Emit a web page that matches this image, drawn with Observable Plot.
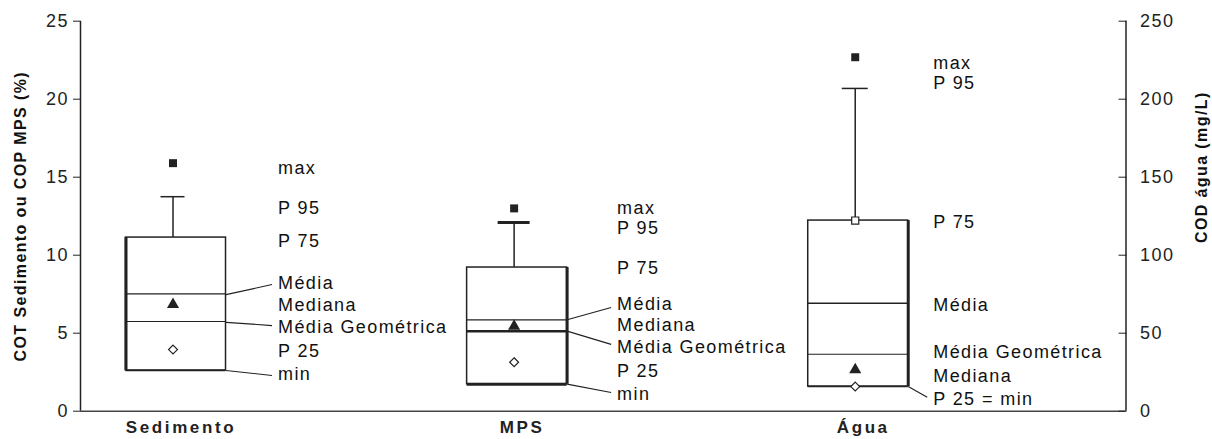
<!DOCTYPE html>
<html><head><meta charset="utf-8">
<script src="https://cdn.jsdelivr.net/npm/d3@7"></script>
<script src="https://cdn.jsdelivr.net/npm/@observablehq/plot@0.6"></script>
<style>
body{margin:0;background:#fff;}
svg g[aria-label="text"] text{letter-spacing:1.4px}
svg g[aria-label="y-axis tick label"] text{letter-spacing:1.5px}
svg g[aria-label="x-axis tick label"] text{letter-spacing:2.6px}
</style></head><body><div id="chart"></div>
<script>
// ---- data (Sedimento & MPS in %, Água in mg/L on the right axis) ----
const categories = ["Sedimento", "MPS", "Água"];
const unitDivisor = [1, 1, 10];            // right axis 250 mg/L ↔ left axis 25 %
const maxVals      = [15.9, 13.0, 226.9];
const p95Vals      = [13.75, 12.1, 206.9];
const p75Vals      = [11.13, 9.21, 122.2];
const mediaVals    = [7.52, 5.86, 69.2];
const medianaVals  = [6.84, 5.45, 26.5];
const mediaGeoVals = [5.75, 5.13, 36.5];
const p25Vals      = [3.95, 3.14, 15.8];
const minVals      = [2.61, 1.73, 15.8];
const p75Marked    = [false, false, true];

const leftTicks  = [0, 5, 10, 15, 20, 25];
const rightTicks = [0, 50, 100, 150, 200, 250];

const labelTexts = [
  ["max", "P 95", "P 75", "Média", "Mediana", "Média Geométrica", "P 25", "min"],
  ["max", "P 95", "P 75", "Média", "Mediana", "Média Geométrica", "P 25", "min"],
  ["max", "P 95", "P 75", "Média", "Média Geométrica", "Mediana", "P 25 = min"]
];
const labelValues = [
  [15.56, 13.04, 10.88, 8.19, 6.78, 5.37, 3.83, 2.35],
  [13.04, 11.76, 9.19, 6.84, 5.49, 4.10, 2.56, 1.07],
  [223.3, 210.3, 121.2, 67.8, 37.8, 22.4, 7.5]
];
const leaderCategory = [0, 0, 0, 1, 1, 1, 2];
const leaderFrom     = [7.47, 5.70, 2.61, 5.86, 5.13, 1.73, 15.8];
const leaderTo       = [8.12, 5.49, 2.29, 6.65, 4.28, 1.20, 9.0];

const leftTitle  = "COT Sedimento ou COP MPS (%)";
const rightTitle = "COD água (mg/L)";

// ---- layout constants ----
const pxPerUnit = 341.1;
const xDomain = [-0.28, 2.785];
const hw = 50 / pxPerUnit;
const capHalfPx = [12, 16, 13];
const labelOffsetPx = [102, 100, 75];
const leaderEndPx = [96, 94, 69];
const ink = "#222";

const rows = categories.map((c, i) => ({
  i, cat: c,
  max: maxVals[i] / unitDivisor[i],
  p95: p95Vals[i] / unitDivisor[i],
  p75: p75Vals[i] / unitDivisor[i],
  media: mediaVals[i] / unitDivisor[i],
  mediana: medianaVals[i] / unitDivisor[i],
  mediaGeo: mediaGeoVals[i] / unitDivisor[i],
  p25: p25Vals[i] / unitDivisor[i],
  min: minVals[i] / unitDivisor[i],
  marked: p75Marked[i]
}));
const ann = [];
labelTexts.forEach((arr, i) => arr.forEach((t, j) => ann.push({i, text: t, y: labelValues[i][j] / unitDivisor[i]})));
const leaders = leaderCategory.map((i, k) => ({i, from: leaderFrom[k] / unitDivisor[i], to: leaderTo[k] / unitDivisor[i]}));

const thickEdgeX = [rows[0].i - hw, rows[1].i + hw, rows[2].i + hw];

const chart = Plot.plot({
  width: 1212, height: 439,
  marginLeft: 80, marginRight: 86.5, marginTop: 20.7, marginBottom: 28.3,
  style: {fontFamily: "'Liberation Sans', Arial, sans-serif", fontSize: "18px", color: ink, background: "#fff"},
  x: {type: "linear", domain: xDomain, axis: null, label: null},
  y: {domain: [0, 25], axis: null, label: null},
  marks: [
    Plot.ruleX(xDomain, {y1: 0, y2: 25, stroke: ink, strokeWidth: 1.5}),
    Plot.ruleY([0], {stroke: "#444", strokeWidth: 1.5}),
    Plot.axisY(leftTicks, {anchor: "left", label: null, tickSize: 7, tickPadding: 4.5, fontSize: 18, stroke: ink}),
    Plot.axisY(rightTicks.map(v => v / 10), {anchor: "right", label: null, tickSize: -8, tickPadding: 22, fontSize: 18, tickFormat: d => String(Math.round(d * 10)), stroke: ink}),
    Plot.axisX([0, 1, 2], {anchor: "bottom", label: null, tickSize: 0, tickPadding: 10, fontSize: 17, fontWeight: "bold", dx: 5, tickFormat: i => categories[i]}),
    // whiskers
    Plot.ruleX(rows, {x: "i", y1: "p75", y2: "p95", dx: -3, stroke: ink, strokeWidth: 1.5}),
    Plot.ruleY(rows, {y: "p95", x1: d => d.i - capHalfPx[d.i] / pxPerUnit, x2: d => d.i + capHalfPx[d.i] / pxPerUnit, dx: -3, stroke: ink, strokeWidth: d => d.i === 1 ? 3 : 1.5}),
    // boxes
    Plot.rect(rows, {x1: d => d.i - hw, x2: d => d.i + hw, y1: "min", y2: "p75", fill: "white", stroke: ink, strokeWidth: 1.5}),
    Plot.ruleX(rows, {x: (d, k) => thickEdgeX[k], y1: "min", y2: "p75", stroke: ink, strokeWidth: 3}),
    Plot.ruleY(rows, {y: "min", x1: d => d.i - hw, x2: d => d.i + hw, stroke: ink, strokeWidth: d => d.i === 1 ? 3 : 1.5}),
    Plot.ruleY(rows, {y: "media", x1: d => d.i - hw, x2: d => d.i + hw, stroke: ink, strokeWidth: d => d.i === 2 ? 1.6 : 1.2}),
    Plot.ruleY(rows, {y: "mediaGeo", x1: d => d.i - hw, x2: d => d.i + hw, stroke: ink, strokeWidth: d => d.i === 1 ? 2.5 : 1.2}),
    // markers
    Plot.dot(rows, {x: "i", y: "max", dx: -3, symbol: "square", r: 4.5, fill: ink}),
    Plot.dot(rows.filter(d => d.marked), {x: "i", y: "p75", dx: -3, symbol: "square", r: 4, fill: "white", stroke: ink, strokeWidth: 1.2}),
    Plot.dot(rows, {x: "i", y: "mediana", dx: -3, symbol: "triangle", r: 4.5, fill: ink}),
    Plot.dot(rows, {x: "i", y: "p25", dx: -3, symbol: "diamond2", r: 4, fill: "white", stroke: ink, strokeWidth: 1.2}),
    // leader lines
    Plot.link(leaders, {x1: d => d.i + hw, y1: "from", x2: d => d.i + leaderEndPx[d.i] / pxPerUnit, y2: "to", stroke: ink, strokeWidth: 1.2}),
    // annotation labels
    Plot.text(ann, {x: d => d.i + labelOffsetPx[d.i] / pxPerUnit, y: "y", text: "text", textAnchor: "start", fontSize: 18, fill: "#111"}),
    // axis titles
    Plot.text([leftTitle], {text: d => d, frameAnchor: "left", textAnchor: "middle", rotate: -90, dx: -60, fontSize: 16, fontWeight: "bold", fill: "#111"}),
    Plot.text([rightTitle], {text: d => d, frameAnchor: "right", textAnchor: "middle", rotate: -90, dx: 76, dy: -49, fontSize: 16, fontWeight: "bold", fill: "#111"})
  ]
});
document.getElementById("chart").appendChild(chart);
</script></body></html>
